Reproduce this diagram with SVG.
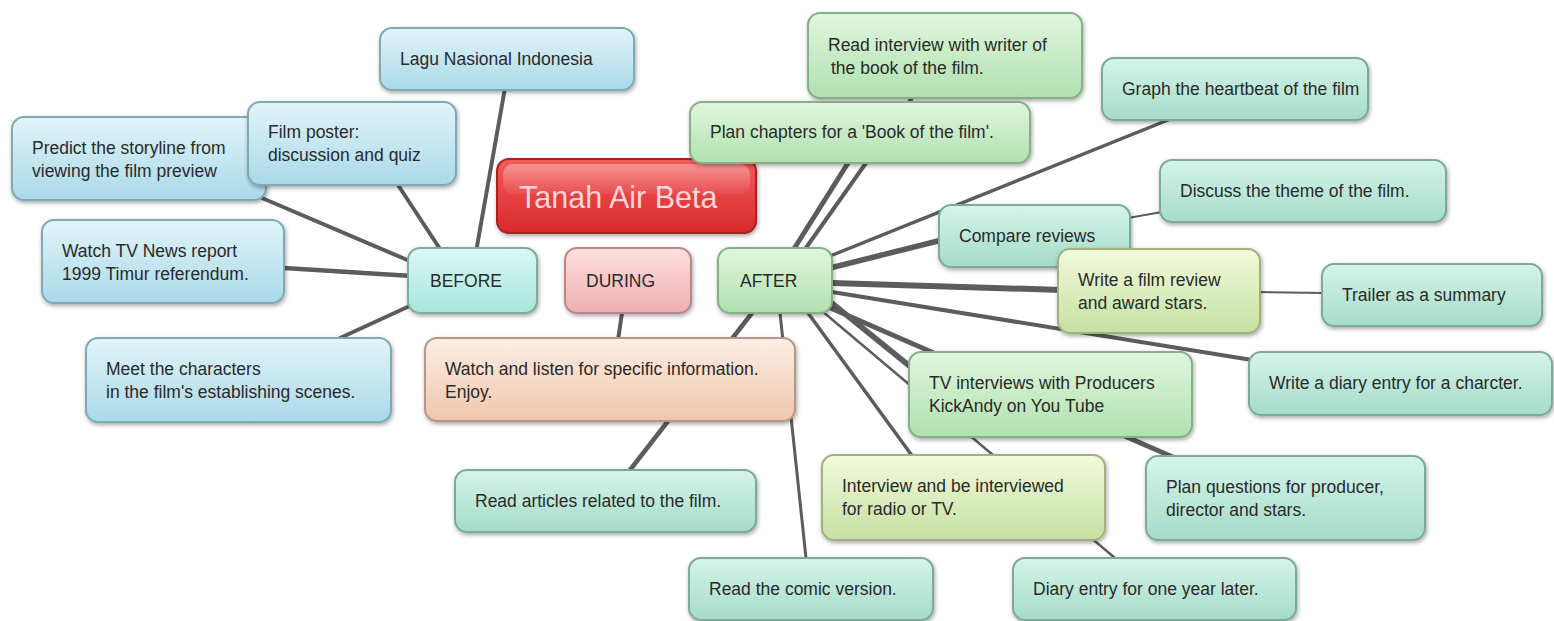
<svg xmlns="http://www.w3.org/2000/svg" width="1554" height="621" viewBox="0 0 1554 621">
<defs>
<filter id="sh" x="-10%" y="-20%" width="120%" height="150%"><feDropShadow dx="1" dy="2" stdDeviation="2" flood-color="#000" flood-opacity="0.35"/></filter>
<linearGradient id="gBlue" x1="0" y1="0" x2="0" y2="1"><stop offset="0" stop-color="#e2f4fa"/><stop offset="1" stop-color="#a9d9e8"/></linearGradient>
<linearGradient id="gTeal" x1="0" y1="0" x2="0" y2="1"><stop offset="0" stop-color="#d6f4ea"/><stop offset="1" stop-color="#a4dcc8"/></linearGradient>
<linearGradient id="gGreen" x1="0" y1="0" x2="0" y2="1"><stop offset="0" stop-color="#e0f7dc"/><stop offset="1" stop-color="#b0e0b0"/></linearGradient>
<linearGradient id="gYel" x1="0" y1="0" x2="0" y2="1"><stop offset="0" stop-color="#f2fadc"/><stop offset="1" stop-color="#c6e0a2"/></linearGradient>
<linearGradient id="gPeach" x1="0" y1="0" x2="0" y2="1"><stop offset="0" stop-color="#fdeee4"/><stop offset="1" stop-color="#f0c6ac"/></linearGradient>
<linearGradient id="gPink" x1="0" y1="0" x2="0" y2="1"><stop offset="0" stop-color="#fde0e0"/><stop offset="1" stop-color="#eeaeb0"/></linearGradient>
<linearGradient id="gAqua" x1="0" y1="0" x2="0" y2="1"><stop offset="0" stop-color="#dcf8f4"/><stop offset="1" stop-color="#a6e6dc"/></linearGradient>
<linearGradient id="gRed" x1="0" y1="0" x2="0" y2="1"><stop offset="0" stop-color="#f45a5a"/><stop offset="1" stop-color="#d82a2c"/></linearGradient>
<linearGradient id="gGloss" x1="0" y1="0" x2="0" y2="1"><stop offset="0" stop-color="#fff" stop-opacity="0.35"/><stop offset="1" stop-color="#fff" stop-opacity="0.05"/></linearGradient>
</defs>
<style>
.n rect.b{stroke-width:2;filter:url(#sh)}
.blue rect.b{fill:url(#gBlue);stroke:#7fa9b4}
.teal rect.b{fill:url(#gTeal);stroke:#7ea898}
.green rect.b{fill:url(#gGreen);stroke:#86ae88}
.yel rect.b{fill:url(#gYel);stroke:#9fb27c}
.peach rect.b{fill:url(#gPeach);stroke:#b49888}
.pink rect.b{fill:url(#gPink);stroke:#b88888}
.aqua rect.b{fill:url(#gAqua);stroke:#7eaaa0}
.red rect.b{fill:url(#gRed);stroke:#a82020}
text{font-family:"Liberation Sans",Arial,sans-serif;font-size:17.5px;fill:#2a2a2a}
.title{font-size:30.5px;fill:#ffd6d6}
.c line{stroke:#5c5c5c;stroke-linecap:round}
</style>
<g id="connectors" class="c">
<line x1="476" y1="252" x2="505" y2="88" stroke-width="4"/>
<line x1="442" y1="252" x2="398" y2="185" stroke-width="4"/>
<line x1="412" y1="262" x2="262" y2="198" stroke-width="4"/>
<line x1="412" y1="276" x2="284" y2="268" stroke-width="4.5"/>
<line x1="414" y1="304" x2="340" y2="338" stroke-width="4"/>
<line x1="622" y1="313" x2="618" y2="340" stroke-width="4"/>
<line x1="792" y1="252" x2="848" y2="163" stroke-width="5"/>
<line x1="803" y1="252" x2="912" y2="98" stroke-width="4"/>
<line x1="830" y1="256" x2="1168" y2="120" stroke-width="3.5"/>
<line x1="830" y1="268" x2="942" y2="240" stroke-width="5.5"/>
<line x1="832" y1="283" x2="1062" y2="290" stroke-width="6"/>
<line x1="832" y1="292" x2="1252" y2="360" stroke-width="4"/>
<line x1="828" y1="300" x2="912" y2="368" stroke-width="5.5"/>
<line x1="826" y1="306" x2="1175" y2="458" stroke-width="5"/>
<line x1="822" y1="311" x2="1115" y2="558" stroke-width="2.5"/>
<line x1="808" y1="313" x2="913" y2="457" stroke-width="3.5"/>
<line x1="780" y1="313" x2="806" y2="558" stroke-width="3"/>
<line x1="752" y1="313" x2="630" y2="470" stroke-width="4.5"/>
<line x1="1128" y1="218" x2="1162" y2="212" stroke-width="2"/>
<line x1="1258" y1="292" x2="1324" y2="293" stroke-width="2"/>
</g>
<g id="lagu" class="n blue"><rect class="b" x="380" y="28" width="254" height="62" rx="12"/><text x="400" y="65">Lagu Nasional Indonesia</text></g>
<g id="predict" class="n blue"><rect class="b" x="12" y="117" width="254" height="83" rx="12"/><text x="32" y="154">Predict the storyline from</text><text x="32" y="177">viewing the film preview</text></g>
<g id="poster" class="n blue"><rect class="b" x="248" y="102" width="208" height="83" rx="12"/><text x="268" y="138">Film poster:</text><text x="268" y="161">discussion and quiz</text></g>
<g id="title" class="n red"><rect class="b" x="497" y="159" width="259" height="74" rx="12"/><rect x="503" y="164" width="247" height="30" rx="10" fill="url(#gGloss)"/><text class="title" x="519" y="208">Tanah Air Beta</text></g>
<g id="watchtv" class="n blue"><rect class="b" x="42" y="220" width="242" height="83" rx="12"/><text x="62" y="257">Watch TV News report</text><text x="62" y="280">1999 Timur referendum.</text></g>
<g id="before" class="n aqua"><rect class="b" x="408" y="248" width="129" height="65" rx="12"/><text x="430" y="287">BEFORE</text></g>
<g id="during" class="n pink"><rect class="b" x="565" y="248" width="126" height="65" rx="12"/><text x="586" y="287">DURING</text></g>
<g id="after" class="n green"><rect class="b" x="718" y="248" width="114" height="65" rx="12"/><text x="740" y="287">AFTER</text></g>
<g id="meet" class="n blue"><rect class="b" x="86" y="338" width="305" height="84" rx="12"/><text x="106" y="375">Meet the characters</text><text x="106" y="398">in the film's establishing scenes.</text></g>
<g id="watchlisten" class="n peach"><rect class="b" x="425" y="338" width="370" height="83" rx="12"/><text x="445" y="375">Watch and listen for specific information.</text><text x="445" y="398">Enjoy.</text></g>
<g id="articles" class="n teal"><rect class="b" x="455" y="470" width="301" height="62" rx="12"/><text x="475" y="507">Read articles related to the film.</text></g>
<g id="comic" class="n teal"><rect class="b" x="689" y="558" width="244" height="62" rx="12"/><text x="709" y="595">Read the comic version.</text></g>
<g id="readinterview" class="n green"><rect class="b" x="808" y="13" width="274" height="85" rx="12"/><text x="828" y="51">Read interview with writer of</text><text x="831" y="74">the book of the film.</text></g>
<g id="chapters" class="n green"><rect class="b" x="690" y="102" width="340" height="61" rx="12"/><text x="710" y="138">Plan chapters for a 'Book of the film'.</text></g>
<g id="graph" class="n teal"><rect class="b" x="1102" y="58" width="266" height="62" rx="12"/><text x="1122" y="95">Graph the heartbeat of the film</text></g>
<g id="theme" class="n teal"><rect class="b" x="1160" y="160" width="286" height="62" rx="12"/><text x="1180" y="197">Discuss the theme of the film.</text></g>
<g id="compare" class="n teal"><rect class="b" x="939" y="205" width="191" height="62" rx="12"/><text x="959" y="242">Compare reviews</text></g>
<g id="review" class="n yel"><rect class="b" x="1058" y="249" width="202" height="84" rx="12"/><text x="1078" y="286">Write a film review</text><text x="1078" y="309">and award stars.</text></g>
<g id="trailer" class="n teal"><rect class="b" x="1322" y="264" width="220" height="62" rx="12"/><text x="1342" y="301">Trailer as a summary</text></g>
<g id="diary" class="n teal"><rect class="b" x="1249" y="352" width="303" height="63" rx="12"/><text x="1269" y="389">Write a diary entry for a charcter.</text></g>
<g id="tvinterviews" class="n green"><rect class="b" x="909" y="352" width="283" height="85" rx="12"/><text x="929" y="389">TV interviews with Producers</text><text x="929" y="412">KickAndy on You Tube</text></g>
<g id="interview" class="n yel"><rect class="b" x="822" y="455" width="283" height="85" rx="12"/><text x="842" y="492">Interview and be interviewed</text><text x="842" y="515">for radio or TV.</text></g>
<g id="questions" class="n teal"><rect class="b" x="1146" y="456" width="279" height="84" rx="12"/><text x="1166" y="493">Plan questions for producer,</text><text x="1166" y="516">director and stars.</text></g>
<g id="diarylater" class="n teal"><rect class="b" x="1013" y="558" width="283" height="62" rx="12"/><text x="1033" y="595">Diary entry for one year later.</text></g>
</svg>
